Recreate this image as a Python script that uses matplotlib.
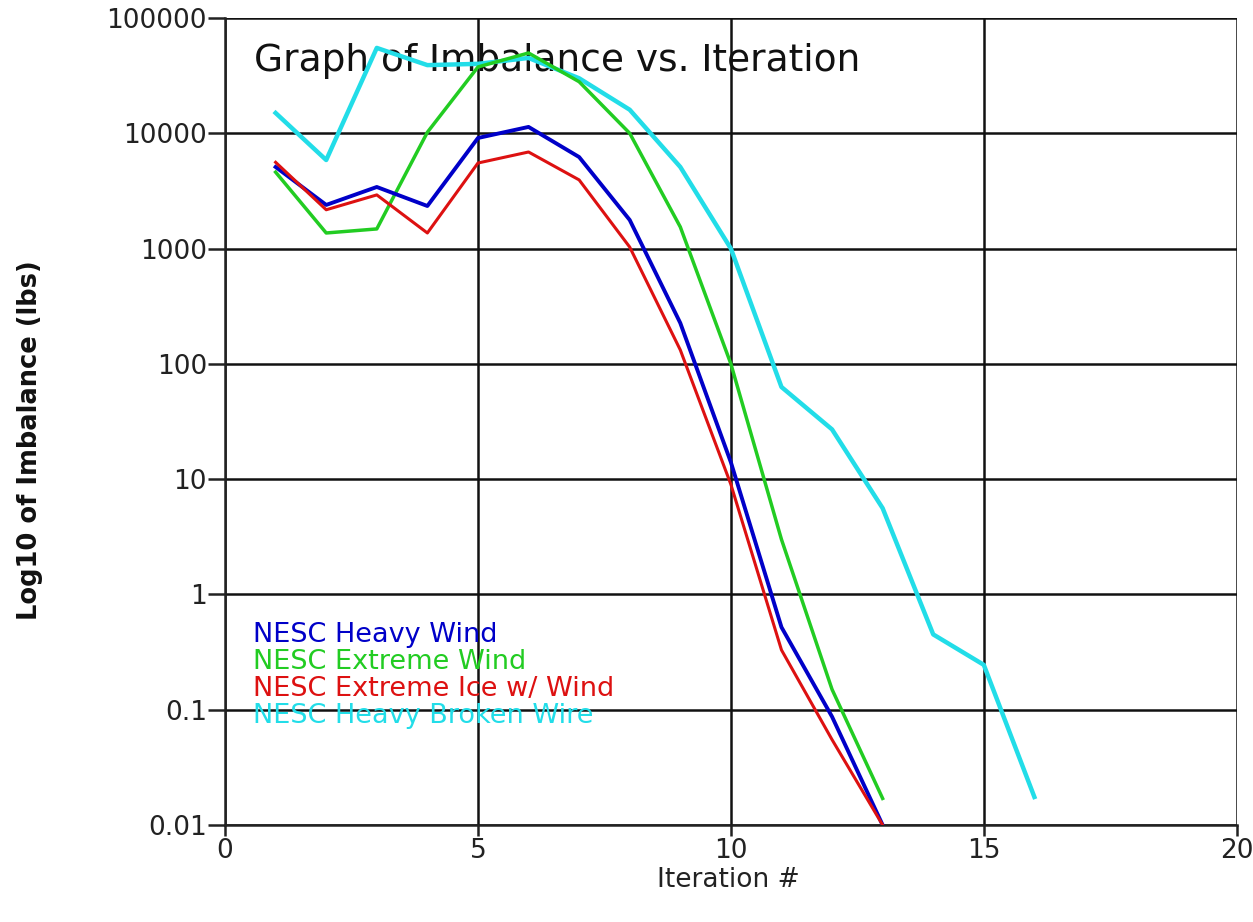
import matplotlib
matplotlib.use("Agg")
import matplotlib.pyplot as plt

plt.rcParams['font.family'] = ['DejaVu Sans']

iterations_13 = [1, 2, 3, 4, 5, 6, 7, 8, 9, 10, 11, 12, 13]
iterations_16 = [1, 2, 3, 4, 5, 6, 7, 8, 9, 10, 11, 12, 13, 14, 15, 16]

heavy_wind = [5100, 2390, 3420, 2340, 9100, 11350, 6220, 1770, 226, 14, 0.52, 0.087, 0.01]
extreme_wind = [4600, 1365, 1480, 10200, 37600, 49700, 28000, 10000, 1540, 100, 3.0, 0.15, 0.017]
extreme_ice = [5600, 2170, 2920, 1365, 5520, 6880, 3940, 1030, 132, 9, 0.33, 0.055, 0.01]
broken_wire = [15000, 5860, 55000, 39000, 40000, 45000, 30000, 16000, 5100, 1000, 63, 27, 5.6, 0.45, 0.245, 0.0175]

series_names = ["NESC Heavy Wind", "NESC Extreme Wind", "NESC Extreme Ice w/ Wind", "NESC Heavy Broken Wire"]
series_colors = ["#0000C8", "#22CC22", "#DD1111", "#22DDE8"]

x_ticks = [0, 5, 10, 15, 20]
y_ticks = [0.01, 0.1, 1, 10, 100, 1000, 10000, 100000]
y_tick_labels = ["0.01", "0.1", "1", "10", "100", "1000", "10000", "100000"]

fig = plt.figure(figsize=(12.53, 9.22), dpi=100)
ax = fig.add_axes([0.1796, 0.1052, 0.987 - 0.1796, 0.9805 - 0.1052])

ax.plot(iterations_16, broken_wire, color=series_colors[3], lw=3.2, zorder=3)
ax.plot(iterations_13, extreme_wind, color=series_colors[1], lw=2.5, zorder=4)
ax.plot(iterations_13, heavy_wind, color=series_colors[0], lw=2.8, zorder=5)
ax.plot(iterations_13, extreme_ice, color=series_colors[2], lw=2.2, zorder=6)

ax.set_yscale('log')
ax.set_xlim(0, 20)
ax.set_ylim(0.01, 100000)
ax.set_xticks(x_ticks)
ax.set_xticklabels([str(t) for t in x_ticks])
ax.set_yticks(y_ticks)
ax.set_yticklabels(y_tick_labels)
ax.minorticks_off()
ax.grid(True, color='#111111', lw=1.8, zorder=1)
ax.set_axisbelow(True)

for s in ['top', 'right']:
    ax.spines[s].set_visible(False)
for s in ['left', 'bottom']:
    ax.spines[s].set_color('#222222')
    ax.spines[s].set_linewidth(1.8)

ax.tick_params(axis='y', direction='out', length=12, width=1.8, color='#222222',
               labelsize=19, labelcolor='#222222', pad=1)
ax.tick_params(axis='x', direction='out', length=8, width=1.8, color='#222222',
               labelsize=19, labelcolor='#222222', pad=1)

ax.text(0.029, 0.9467, "Graph of Imbalance vs. Iteration", transform=ax.transAxes,
        fontsize=27, color='#111111', ha='left', va='center', zorder=2)

leg_baselines = [0.2268, 0.1933, 0.1599, 0.1264]
for name, col, yy in zip(series_names, series_colors, leg_baselines):
    ax.text(0.028, yy, name, transform=ax.transAxes, fontsize=19.5, color=col,
            ha='left', va='baseline', zorder=7)

fig.text(0.024, 0.523, "Log10 of Imbalance (lbs)", rotation=90, fontsize=18.5,
         fontweight='bold', color='#111111', ha='center', va='center')
fig.text(0.581, 0.0456, "Iteration #", fontsize=19, color='#222222', ha='center', va='center')

fig.savefig("out.png", dpi=100, facecolor='white')
